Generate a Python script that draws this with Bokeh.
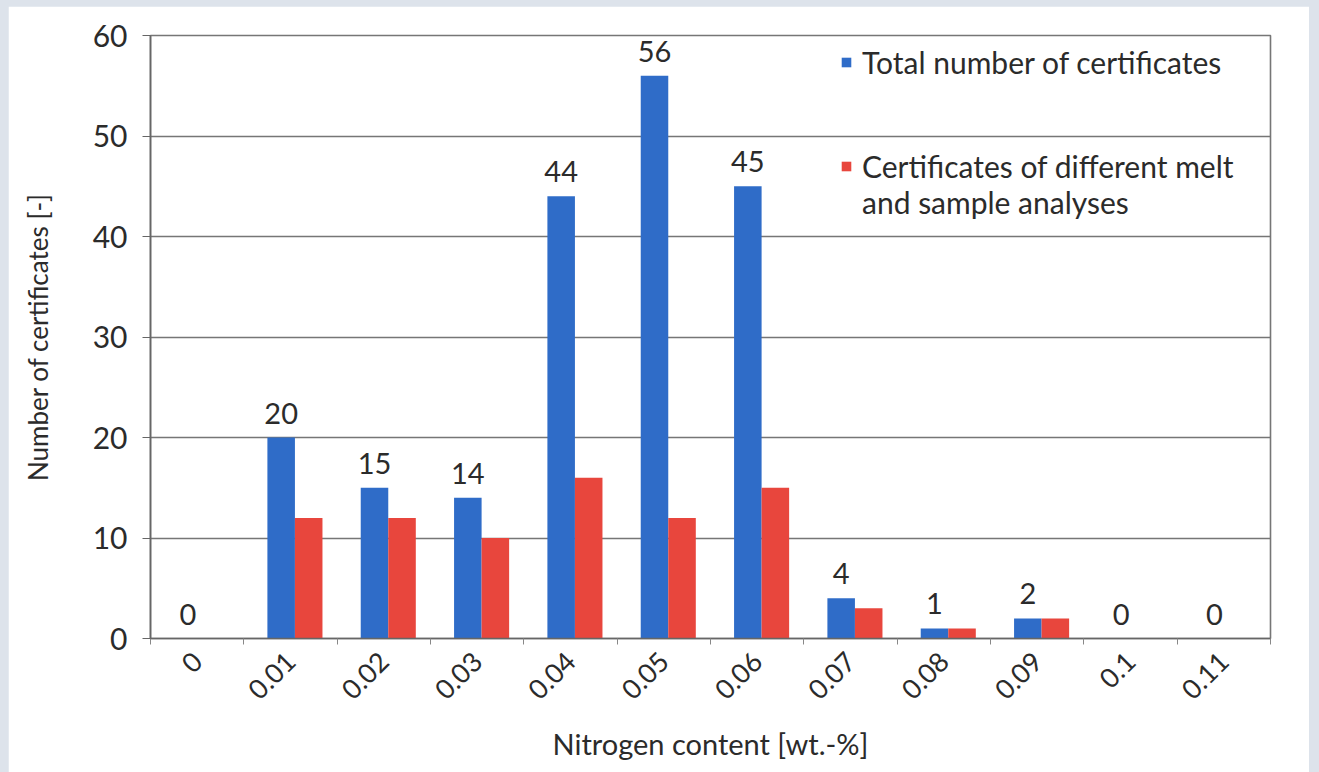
import numpy as np
from bokeh.plotting import figure
from bokeh.models import ColumnDataSource, FixedTicker, Legend, LegendItem, LabelSet
from bokeh.transform import dodge
from bokeh.layouts import column
from bokeh.embed import file_html
from bokeh.resources import INLINE
from bokeh.core.properties import value

categories = ["0", "0.01", "0.02", "0.03", "0.04", "0.05", "0.06",
              "0.07", "0.08", "0.09", "0.1", "0.11"]
total_certificates = [0, 20, 15, 14, 44, 56, 45, 4, 1, 2, 0, 0]
different_analyses = [0, 12, 12, 10, 16, 12, 15, 3, 1, 2, 0, 0]
y_ticks = [0, 10, 20, 30, 40, 50, 60]
legend_labels = ["Total number of certificates",
                 "Certificates of different melt", "and sample analyses"]

BLUE = "#2F6CC8"
RED = "#E8463D"
FONT = "Lato"
TXT = "#2b2b2b"

n = len(categories)
centers = [i + 0.5 for i in range(n)]
src = ColumnDataSource(dict(
    x=centers,
    total=total_certificates,
    diff=different_analyses,
    lbl=[str(v) for v in total_certificates],
))

p = figure(width=1301, height=766, x_range=(0, n), y_range=(0, 60),
           output_backend="svg", toolbar_location=None,
           min_border_left=142, min_border_right=39,
           min_border_top=29, min_border_bottom=134,
           background_fill_color="white", border_fill_color="white")

bw = 0.295
rb = p.vbar(x=dodge("x", -0.10, range=p.x_range), top="total", width=bw,
            source=src, fill_color=BLUE, line_color=None)
rr = p.vbar(x=dodge("x", 0.195, range=p.x_range), top="diff", width=bw,
            source=src, fill_color=RED, line_color=None)
# invisible renderer used only for the second line of the legend text
rdummy = p.vbar(x=[], top=[], width=bw, fill_alpha=0, line_alpha=0)

labels = LabelSet(x=dodge("x", -0.10, range=p.x_range), y="total", text="lbl",
                  source=src, text_align="center", text_baseline="bottom",
                  y_offset=14, text_font=value(FONT), text_font_size=value("29px"),
                  text_color=TXT)
p.add_layout(labels)

# axes
p.xgrid.grid_line_color = None
p.ygrid.grid_line_color = "#767676"
p.ygrid.grid_line_width = 1.6
p.outline_line_color = "#767676"
p.outline_line_width = 1.6

p.yaxis.ticker = FixedTicker(ticks=y_ticks)
p.yaxis.axis_line_color = "#666666"
p.yaxis.axis_line_width = 1.6
p.yaxis.major_tick_line_color = "#666666"
p.yaxis.major_tick_out = 8
p.yaxis.major_tick_in = 0
p.yaxis.minor_tick_line_color = None
p.yaxis.major_label_standoff = 15
p.yaxis.major_label_text_font = FONT
p.yaxis.major_label_text_font_size = "30px"
p.yaxis.major_label_text_color = TXT
p.yaxis.axis_label = "Number of certificates [-]"
p.yaxis.axis_label_text_font = FONT
p.yaxis.axis_label_text_font_size = "26px"
p.yaxis.axis_label_text_font_style = "normal"
p.yaxis.axis_label_text_color = TXT
p.yaxis.axis_label_standoff = 36

p.xaxis.ticker = FixedTicker(ticks=centers, minor_ticks=list(range(n + 1)))
p.xaxis.major_label_overrides = {c: lab for c, lab in zip(centers, categories)}
p.xaxis.major_tick_out = 0
p.xaxis.major_tick_in = 0
p.xaxis.minor_tick_out = 6
p.xaxis.minor_tick_in = 0
p.xaxis.minor_tick_line_color = "#888888"
p.xaxis.axis_line_color = "#666666"
p.xaxis.axis_line_width = 1.6
p.xaxis.major_label_orientation = np.pi / 4
p.xaxis.major_label_standoff = 12
p.xaxis.major_label_text_font = FONT
p.xaxis.major_label_text_font_size = "27px"
p.xaxis.major_label_text_color = TXT
p.xaxis.axis_label = "Nitrogen content [wt.-%]"
p.xaxis.axis_label_text_font = FONT
p.xaxis.axis_label_text_font_size = "29px"
p.xaxis.axis_label_text_font_style = "normal"
p.xaxis.axis_label_text_color = TXT
p.xaxis.axis_label_standoff = 15

common = dict(border_line_alpha=0, background_fill_alpha=0,
              glyph_width=12, glyph_height=12, label_text_font=FONT,
              label_text_font_size="30px", label_text_color=TXT,
              padding=0, margin=0, label_standoff=10)

legend_a = Legend(items=[LegendItem(label=legend_labels[0], renderers=[rb])],
                  location=(690, 558), **common)
legend_b = Legend(items=[LegendItem(label=legend_labels[1], renderers=[rr]),
                         LegendItem(label=legend_labels[2], renderers=[rdummy])],
                  location=(690, 418), spacing=0, **common)
p.add_layout(legend_a)
p.add_layout(legend_b)

layout = column(p, width=1319, height=772,
                styles={"background-color": "#dde3eb", "padding-left": "8px",
                        "padding-top": "6px"})

open("out.html", "w").write(file_html(layout, INLINE))
